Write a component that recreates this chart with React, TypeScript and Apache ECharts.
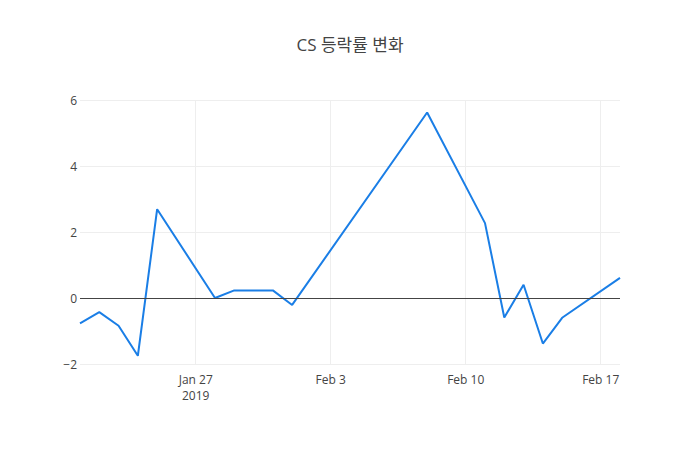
import React, { useEffect, useRef } from "react";
import * as echarts from "echarts";

const dates = [
    "2019-01-21", "2019-01-22", "2019-01-23", "2019-01-24", "2019-01-25",
    "2019-01-28", "2019-01-29", "2019-01-30", "2019-01-31", "2019-02-01",
    "2019-02-08", "2019-02-11", "2019-02-12", "2019-02-13", "2019-02-14",
    "2019-02-15", "2019-02-18",
];
const changes = [
    -0.77, -0.43, -0.84, -1.75, 2.69,
    0.0, 0.23, 0.23, 0.23, -0.21,
    5.62, 2.27, -0.59, 0.4, -1.38,
    -0.6, 0.61,
];
const xTicks = ["2019-01-27", "2019-02-03", "2019-02-10", "2019-02-17"];
const yTicks = [-2, 0, 2, 4, 6];

const ts = (d: string) => {
    const [y, m, day] = d.split("-").map(Number);
    return Date.UTC(y, m - 1, day);
};
const MONTHS = ["Jan", "Feb", "Mar", "Apr", "May", "Jun", "Jul", "Aug", "Sep", "Oct", "Nov", "Dec"];

const App = () => {
    const chartRef = useRef(null);

    useEffect(() => {
        if (!chartRef.current) return;
        const chart = echarts.init(chartRef.current, null, { renderer: "svg" });
        const font = '"Open Sans", "Noto Sans CJK KR", sans-serif';
        const xTickVals = xTicks.map(ts);

        const option = {
            animation: false,
            backgroundColor: "#fff",
            title: {
                text: "CS 등락률 변화",
                left: "center",
                top: 31,
                textStyle: { color: "#444", fontSize: 17, fontWeight: "normal", fontFamily: font },
            },
            grid: { left: 80, right: 80, top: 100, bottom: 86 },
            xAxis: {
                type: "value",
                min: ts(dates[0]),
                max: ts(dates[dates.length - 1]),
                axisLine: { show: false },
                axisTick: { show: false, customValues: xTickVals },
                splitLine: { show: true, lineStyle: { color: "#eee", width: 1 } },
                axisLabel: {
                    customValues: xTickVals,
                    color: "#444",
                    fontSize: 12,
                    fontFamily: font,
                    margin: 7,
                    lineHeight: 16,
                    formatter: (v: number) => {
                        const d = new Date(v);
                        const s = `${MONTHS[d.getUTCMonth()]} ${d.getUTCDate()}`;
                        return v === xTickVals[0] ? `${s}\n${d.getUTCFullYear()}` : s;
                    },
                },
            },
            yAxis: {
                type: "value",
                min: yTicks[0],
                max: yTicks[yTicks.length - 1],
                interval: 2,
                axisLine: { show: false },
                axisTick: { show: false },
                splitLine: { show: true, lineStyle: { color: "#eee", width: 1 } },
                axisLabel: {
                    color: "#444",
                    fontSize: 12,
                    fontFamily: font,
                    margin: 3,
                    formatter: (v: number) => (v < 0 ? `\u2212${Math.abs(v)}` : `${v}`),
                },
            },
            series: [
                {
                    type: "line",
                    data: dates.map((d, i) => [ts(d), changes[i]]),
                    showSymbol: false,
                    lineStyle: { color: "#1a7ee6", width: 2 },
                    itemStyle: { color: "#1a7ee6" },
                    markLine: {
                        silent: true,
                        symbol: "none",
                        label: { show: false },
                        lineStyle: { color: "#444", width: 1, type: "solid" },
                        data: [{ yAxis: 0 }],
                    },
                },
            ],
        };

        chart.setOption(option);
        return () => chart.dispose();
    }, []);

    return (
        <div
            ref={chartRef}
            style={{ position: "absolute", left: 0, top: 0, width: "700px", height: "450px" }}
        />
    );
};

export default App;
